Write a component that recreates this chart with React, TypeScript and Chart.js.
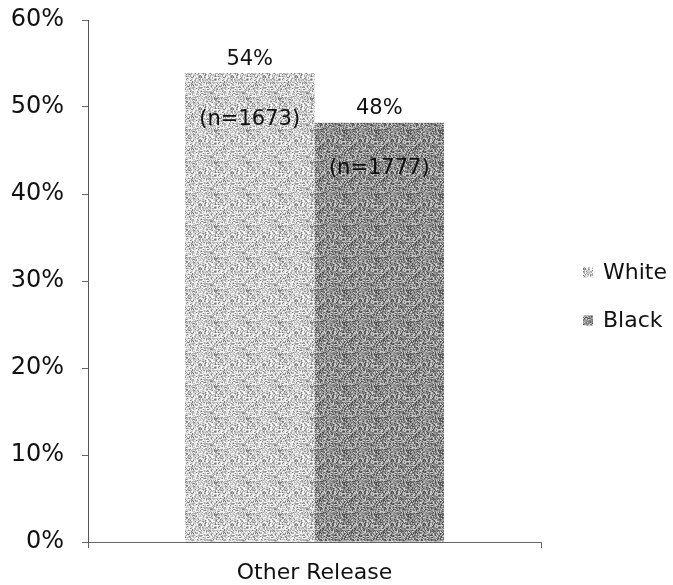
import React, { useEffect, useRef } from "react";
import { Chart, registerables } from "chart.js";

Chart.register(...registerables);

const categories = ["Other Release"];
const seriesNames = ["White", "Black"];
const whiteValues = [53.9];
const blackValues = [48.2];
const valueLabels = [["54%"], ["48%"]];
const countLabels = [["(n=1673)"], ["(n=1777)"]];
const yTicks = [0, 10, 20, 30, 40, 50, 60];

const FONT = "'DejaVu Sans', sans-serif";

// texture tone tables (grey level, cumulative share out of 100)
const whiteTones: [number, number][] = [[245, 30], [210, 62], [172, 88], [125, 100]];
const blackTones: [number, number][] = [[205, 20], [162, 45], [124, 80], [80, 100]];

function hash(x: number, y: number) {
  let h = (Math.imul(x, 374761393) + Math.imul(y, 668265263)) | 0;
  h = Math.imul(h ^ (h >>> 13), 1274126177);
  h = h ^ (h >>> 16);
  return (h >>> 0) % 100;
}

function makeTexture(tones: [number, number][]) {
  const size = 32;
  const c = document.createElement("canvas");
  c.width = size;
  c.height = size;
  const ctx = c.getContext("2d")!;
  const img = ctx.createImageData(size, size);
  for (let y = 0; y < size; y++) {
    for (let x = 0; x < size; x++) {
      const r = hash(x, y);
      let g = tones[tones.length - 1][0];
      for (const [lvl, cum] of tones) {
        if (r < cum) {
          g = lvl;
          break;
        }
      }
      const k = (y * size + x) * 4;
      img.data[k] = g;
      img.data[k + 1] = g;
      img.data[k + 2] = g;
      img.data[k + 3] = 255;
    }
  }
  ctx.putImageData(img, 0, 0);
  return ctx.createPattern(c, "repeat")!;
}

export default function App() {
  const ref = useRef<HTMLCanvasElement | null>(null);

  useEffect(() => {
    const canvas = ref.current!;
    const whiteFill = makeTexture(whiteTones);
    const blackFill = makeTexture(blackTones);
    const fills = [whiteFill, blackFill];

    const labelPlugin = {
      id: "barLabels",
      afterDatasetsDraw(chart: any) {
        const ctx = chart.ctx;
        ctx.save();
        ctx.fillStyle = "#111";
        ctx.textAlign = "center";
        ctx.textBaseline = "middle";
        ctx.font = `21px ${FONT}`;
        chart.data.datasets.forEach((ds: any, i: number) => {
          const meta = chart.getDatasetMeta(i);
          meta.data.forEach((bar: any, j: number) => {
            ctx.fillText(valueLabels[i][j], bar.x, bar.y - 14);
            ctx.fillText(countLabels[i][j], bar.x, bar.y + 46);
          });
        });
        ctx.restore();
      },
    };

    const legendPlugin = {
      id: "sideLegend",
      afterDraw(chart: any) {
        const ctx = chart.ctx;
        const area = chart.chartArea;
        ctx.save();
        ctx.font = `22px ${FONT}`;
        ctx.textBaseline = "middle";
        ctx.textAlign = "left";
        const x0 = area.right + 42;
        const yc = chart.height / 2 + 4;
        chart.data.datasets.forEach((ds: any, i: number) => {
          const y = yc + (i - 0.5) * 48;
          ctx.fillStyle = fills[i];
          ctx.fillRect(x0, y - 5, 10, 10);
          ctx.fillStyle = "#111";
          ctx.fillText(ds.label, x0 + 20, y + 1);
        });
        ctx.restore();
      },
    };

    const chart = new Chart(canvas, {
      type: "bar",
      data: {
        labels: categories,
        datasets: [
          { label: seriesNames[0], data: whiteValues, backgroundColor: whiteFill, borderWidth: 0 },
          { label: seriesNames[1], data: blackValues, backgroundColor: blackFill, borderWidth: 0 },
        ],
      },
      options: {
        responsive: false,
        animation: false,
        events: [],
        layout: { padding: { left: 10, right: 132, top: 20, bottom: 0 } },
        datasets: { bar: { categoryPercentage: 0.572, barPercentage: 1.0 } },
        plugins: {
          legend: { display: false },
          tooltip: { enabled: false },
        },
        scales: {
          x: {
            type: "category",
            offset: true,
            afterFit(scale: any) {
              scale.height = 43;
            },
            grid: {
              offset: true,
              drawOnChartArea: false,
              drawTicks: true,
              tickLength: 6,
              color: "#666",
            },
            border: { display: true, color: "#666", width: 1 },
            ticks: {
              color: "#111",
              padding: 12,
              font: { family: FONT, size: 22 },
            },
          },
          y: {
            min: 0,
            max: 60,
            afterBuildTicks(scale: any) {
              scale.ticks = yTicks.map((v) => ({ value: v }));
            },
            afterFit(scale: any) {
              scale.width = 78;
              scale.paddingTop = 0;
              scale.paddingBottom = 0;
            },
            grid: {
              drawOnChartArea: false,
              drawTicks: true,
              tickLength: 6,
              color: "#666",
            },
            border: { display: true, color: "#555", width: 1 },
            ticks: {
              color: "#111",
              padding: 18,
              font: { family: FONT, size: 24 },
              callback: (v: any) => `${v}%`,
            },
          },
        },
      },
      plugins: [labelPlugin, legendPlugin],
    });

    return () => chart.destroy();
  }, []);

  return (
    <div style={{ position: "fixed", left: 0, top: 0, width: 673, height: 585, background: "#fff" }}>
      <canvas ref={ref} width={673} height={585} style={{ display: "block" }} />
    </div>
  );
}
